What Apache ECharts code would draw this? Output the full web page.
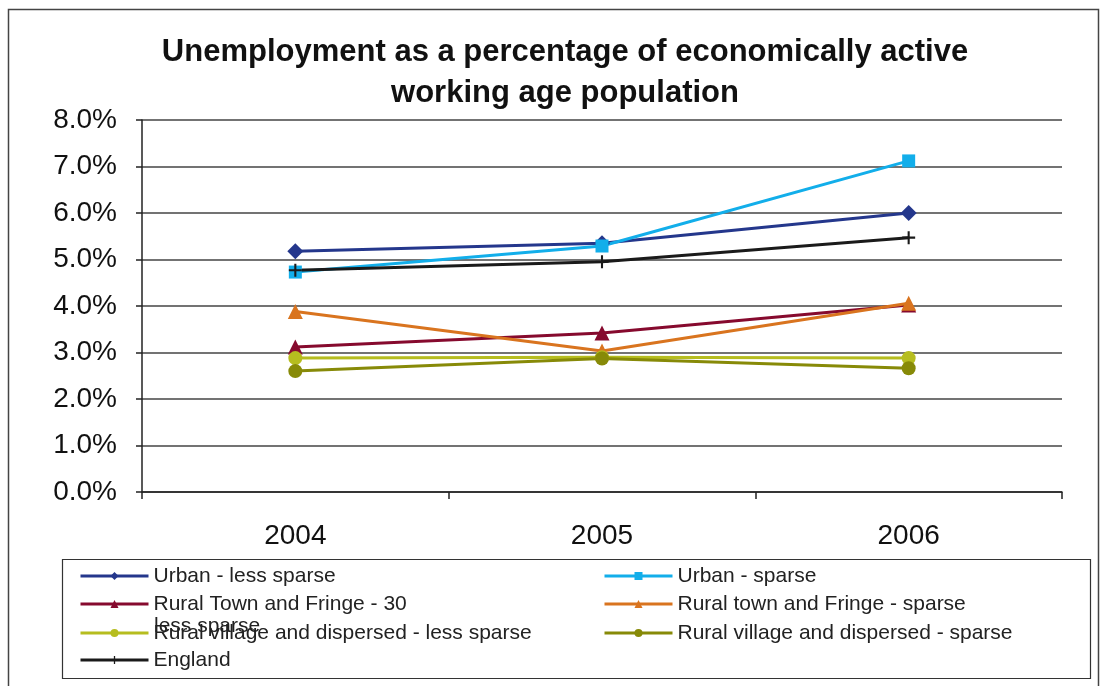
<!DOCTYPE html>
<html>
<head>
<meta charset="utf-8">
<script src="https://cdn.jsdelivr.net/npm/echarts@6/dist/echarts.min.js"></script>
<style>
  html, body { margin: 0; padding: 0; background: #fff; }
  #chart { width: 1104px; height: 686px; }
</style>
</head>
<body>
<div id="chart"></div>
<script>
// data (percent)
const years = ["2004", "2005", "2006"];
const urbanLess = [5.18, 5.35, 6.0];
const urbanSparse = [4.73, 5.29, 7.12];
const ruralTownLess = [3.12, 3.42, 4.02];
const ruralTownSparse = [3.88, 3.03, 4.06];
const villageLess = [2.88, 2.9, 2.88];
const villageSparse = [2.6, 2.87, 2.66];
const england = [4.77, 4.95, 5.47];

const names = [
  "Urban - less sparse",
  "Urban - sparse",
  "Rural Town and Fringe - 30 less sparse",
  "Rural town and Fringe - sparse",
  "Rural village and dispersed - less sparse",
  "Rural village and dispersed - sparse",
  "England",
];

const plusPath = "path://M4.2,0H5.8V4.2H10V5.8H5.8V10H4.2V5.8H0V4.2H4.2Z";

function mkSeries(name, data, color, symbol, size) {
  return {
    name: name,
    type: "line",
    data: data,
    symbol: symbol,
    symbolSize: size,
    itemStyle: { color: color },
    lineStyle: { color: color, width: 3 },
  };
}

// one legend per item so each row sits where it does in the picture
const legendSpots = [
  [names[0], 79, 576],
  [names[2], 79, 604],
  [names[4], 79, 633],
  [names[6], 79, 660],
  [names[1], 603, 576],
  [names[3], 603, 604],
  [names[5], 603, 633],
];
const legendText = { fontFamily: "Liberation Sans, Arial", fontSize: 21, lineHeight: 24, color: "#222" };
const legends = legendSpots.map((s) => ({
  data: [s[0]],
  left: s[1],
  top: s[2] - 12,
  padding: 0,
  itemWidth: 68,
  itemHeight: 10,
  lineStyle: { width: 3 },
  textStyle: legendText,
  formatter: (n) => (n === names[2] ? "Rural Town and Fringe - 30" : n),
}));

const myChart = echarts.init(document.getElementById("chart"));

const option = {
  animation: false,
  backgroundColor: "#fff",
  title: {
    text: "Unemployment as a percentage of economically active\nworking age population",
    left: 565,
    textAlign: "center",
    top: 32,
    padding: 0,
    textStyle: {
      fontFamily: "Liberation Sans, Arial",
      fontWeight: "bold",
      fontSize: 31,
      lineHeight: 41,
      color: "#111",
    },
  },
  grid: { left: 142, right: 42, top: 120, bottom: 194 },
  xAxis: {
    type: "category",
    data: years,
    boundaryGap: true,
    axisLine: { lineStyle: { color: "#222", width: 1.5 } },
    axisTick: { show: true, length: 7, lineStyle: { color: "#222", width: 1.5 } },
    axisLabel: {
      fontFamily: "Liberation Sans, Arial",
      fontSize: 28,
      color: "#111",
      margin: 30,
    },
  },
  yAxis: {
    type: "value",
    min: 0,
    max: 8,
    interval: 1,
    axisLine: { show: true, lineStyle: { color: "#222", width: 1.5 } },
    axisTick: { show: true, length: 6, lineStyle: { color: "#222", width: 1.5 } },
    splitLine: { lineStyle: { color: "#444", width: 1.5 } },
    axisLabel: {
      fontFamily: "Liberation Sans, Arial",
      fontSize: 28,
      color: "#111",
      margin: 25,
      formatter: (v) => v.toFixed(1) + "%",
    },
  },
  legend: legends,
  graphic: [
    {
      type: "rect",
      shape: { x: 8.5, y: 9.5, width: 1090, height: 690 },
      style: { fill: "none", stroke: "#444", lineWidth: 1.5 },
      silent: true,
    },
    {
      type: "rect",
      shape: { x: 62.5, y: 559.5, width: 1028, height: 119 },
      style: { fill: "none", stroke: "#333", lineWidth: 1.2 },
      silent: true,
    },
    {
      type: "text",
      left: 154,
      top: 616,
      style: { text: "less sparse", font: "21px Liberation Sans, Arial", fill: "#222" },
      silent: true,
    },
  ],
  series: [
    mkSeries(names[0], urbanLess, "#24378c", "diamond", 16),
    mkSeries(names[1], urbanSparse, "#12aeea", "rect", 13),
    mkSeries(names[2], ruralTownLess, "#860a2e", "triangle", 15),
    mkSeries(names[3], ruralTownSparse, "#d9741f", "triangle", 15),
    mkSeries(names[4], villageLess, "#b6bd1f", "circle", 14),
    mkSeries(names[5], villageSparse, "#878a08", "circle", 14),
    mkSeries(names[6], england, "#1a1a1a", plusPath, 13),
  ],
};

myChart.setOption(option);
</script>
</body>
</html>
